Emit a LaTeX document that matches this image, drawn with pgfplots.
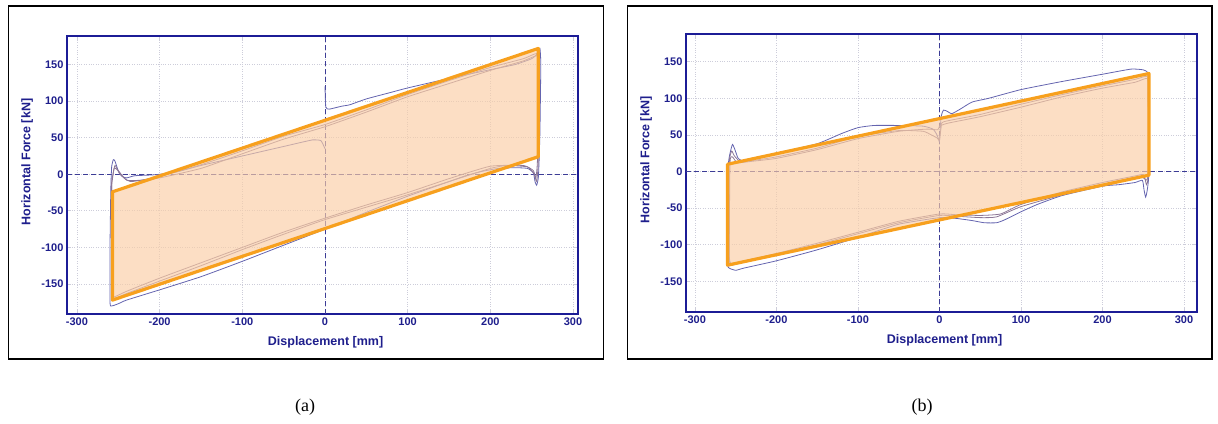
\documentclass[border=0pt]{standalone}
\usepackage{fontspec}
\setmainfont{Liberation Serif}
\setsansfont{Liberation Sans}
\usepackage{pgfplots}
\pgfplotsset{compat=1.18}
\definecolor{axblue}{RGB}{28,28,150}
\definecolor{txtblue}{RGB}{30,30,140}
\definecolor{cnavy}{RGB}{100,100,175}
\definecolor{cgray}{RGB}{140,118,150}
\definecolor{corange}{RGB}{247,160,30}
\definecolor{cpeach}{RGB}{250,205,165}
\definecolor{cgrid}{RGB}{205,205,218}
\definecolor{czero}{RGB}{60,60,150}
\pgfplotsset{
  hyst/.style={
    scale only axis, width=511pt, height=278pt,
    axis line style={draw=axblue, line width=1.8pt},
    xtick={-300,-200,-100,0,100,200,300},
    xticklabels={{-300},{-200},{-100},{0},{100},{200},{300}},
    ytick={-150,-100,-50,0,50,100,150},
    yticklabels={{-150},{-100},{-50},{0},{50},{100},{150}},
    ticklabel style={font=\sffamily\bfseries\fontsize{11}{12}\selectfont, text=txtblue},
    tick align=inside, major tick length=4pt,
    tick style={draw=cgrid, line width=0.8pt},
    grid=major, major grid style={draw=cgrid, dotted, line width=0.8pt},
    label style={font=\sffamily\bfseries\fontsize{12.5}{14}\selectfont, text=txtblue},
    xlabel={Displacement [mm]}, ylabel={Horizontal Force [kN]},
    xlabel style={at={(axis description cs:0.506,-0.10)}, anchor=center},
    ylabel style={at={(axis description cs:-0.078,0.547)}, anchor=center, rotate=0},
    clip=true,
  },
  zl/.style={draw=czero, dash pattern=on 5pt off 3pt, line width=0.7pt, no marks},
  cn/.style={draw=cnavy, line width=0.8pt, smooth, tension=0.3, no marks},
  cg/.style={draw=cgray, line width=0.8pt, smooth, tension=0.3, no marks},
}
\begin{document}
\begin{tikzpicture}[x=1pt,y=1pt]
\path (0pt,0pt) rectangle (1218pt,423pt);
% frames
\draw[black, line width=1.1pt] (8.5pt,64pt) rectangle (603.5pt,417pt);
\draw[black, line width=1.1pt] (627.5pt,64pt) rectangle (1212pt,417pt);
% ---------------- panel (a)
\begin{axis}[hyst, at={(67pt,109pt)}, anchor=south west,
  xmin=-312, xmax=306, ymin=-191, ymax=189]
\addplot[zl] coordinates {(-312,0) (306,0)};
\addplot[zl] coordinates {(0,-191) (0,189)};
\addplot[cn] coordinates {(0,120) (1,92) (5,89) (20,93) (30,95) (50,103) (80,112) (100,118) (150,131) (200,143) (230,150) (250,158) (258,166) (260,172) (261,150) (260,60) (259,20) (258,-5) (256,-15) (254,-10) (252,2) (245,8) (230,9) (210,8) (190,4) (170,-2) (150,-10) (100,-30) (50,-52) (0,-75) (-50,-97) (-100,-119) (-150,-140) (-200,-158) (-240,-172) (-250,-177) (-258,-180) (-260,-175) (-260,-100) (-259,-20) (-258,10) (-256,20) (-254,18) (-250,5) (-245,-3) (-240,-5) (-230,-2) (-210,-1) (-200,0) (-180,3) (-150,12) (-100,25) (-50,38) (-15,47) (-5,46) (-2,40) (0,35)};
\addplot[cg] coordinates {(-258,-15) (-255,8) (-250,5) (-240,-8) (-220,-8) (-200,-5) (-150,8) (-100,28) (-50,48) (0,65) (50,85) (100,106) (150,124) (200,142) (240,155) (257,162) (258,140) (258,20) (256,-10) (253,0) (245,10) (220,12) (200,8) (150,-10) (100,-28) (50,-45) (0,-62) (-50,-82) (-100,-103) (-150,-125) (-200,-146) (-240,-163) (-255,-170) (-258,-165) (-258,-15)};
\addplot[cg] coordinates {(-258,-10) (-254,12) (-248,0) (-235,-10) (-200,-3) (-150,13) (-100,32) (-50,52) (0,68) (50,88) (100,109) (150,128) (200,146) (240,158) (256,165) (257,150) (257,22) (255,-5) (252,5) (240,12) (200,11) (150,-6) (100,-25) (50,-42) (0,-60) (-50,-79) (-100,-100) (-150,-121) (-200,-142) (-240,-160) (-256,-168) (-258,-160) (-258,-10)};
\addplot[fill=cpeach, fill opacity=0.66, draw=none] coordinates {(-257,-24) (258,172) (258,24) (-257,-172)} -- cycle;
\addplot[draw=corange, line width=3.2pt, line join=round, no marks] coordinates {(-257,-24) (258,172) (258,24) (-257,-172)} -- cycle;
\end{axis}
% ---------------- panel (b)
\begin{axis}[hyst, at={(686pt,111pt)}, anchor=south west,
  xmin=-311, xmax=316, ymin=-192, ymax=188]
\addplot[zl] coordinates {(-311,0) (316,0)};
\addplot[zl] coordinates {(0,-192) (0,188)};
\addplot[cn] coordinates {(0,40) (2,75) (5,84) (10,82) (15,79) (25,85) (40,95) (60,100) (100,112) (150,123) (200,133) (235,140) (250,139) (256,135) (257,120) (257,0) (255,-25) (253,-35) (251,-25) (249,-12) (240,-15) (220,-18) (200,-20) (150,-33) (120,-45) (100,-55) (80,-66) (70,-70) (55,-70) (40,-67) (20,-64) (0,-63) (-50,-72) (-100,-90) (-150,-107) (-200,-122) (-240,-132) (-250,-135) (-258,-132) (-260,-125) (-260,-50) (-259,10) (-257,25) (-254,37) (-251,30) (-247,18) (-240,14) (-230,18) (-200,25) (-150,38) (-120,52) (-100,60) (-80,63) (-50,63) (-20,62) (-8,58) (-3,50) (0,40)};
\addplot[cg] coordinates {(-258,-120) (-258,10) (-255,28) (-252,22) (-245,14) (-230,15) (-200,20) (-150,32) (-100,48) (-50,56) (-20,55) (-10,50) (-3,46) (0,43) (2,60) (5,68) (50,78) (100,92) (150,105) (200,117) (240,126) (255,130) (256,110) (256,-5) (254,-18) (252,-10) (245,-8) (200,-18) (150,-32) (100,-48) (70,-62) (50,-63) (20,-61) (0,-60) (-50,-70) (-100,-85) (-150,-100) (-200,-114) (-240,-124) (-256,-128) (-258,-120)};
\addplot[cg] coordinates {(-258,-115) (-257,12) (-254,20) (-248,12) (-230,14) (-200,18) (-150,30) (-100,45) (-50,55) (-15,58) (-2,57) (0,62) (10,66) (50,75) (100,88) (150,102) (200,114) (240,122) (255,127) (256,100) (256,-3) (253,-12) (250,-4) (240,-6) (200,-15) (150,-28) (100,-45) (75,-58) (50,-60) (20,-59) (0,-58) (-50,-68) (-100,-83) (-150,-98) (-200,-112) (-240,-122) (-256,-126) (-258,-115)};
\addplot[fill=cpeach, fill opacity=0.66, draw=none] coordinates {(-260,10) (257,134) (257,-5) (-260,-128)} -- cycle;
\addplot[draw=corange, line width=3.2pt, line join=round, no marks] coordinates {(-260,10) (257,134) (257,-5) (-260,-128)} -- cycle;
\end{axis}
% captions
\node[font=\fontsize{18}{20}\selectfont] at (305pt,16pt) {(a)};
\node[font=\fontsize{18}{20}\selectfont] at (922pt,16pt) {(b)};
\pgfresetboundingbox
\path (0pt,0pt) rectangle (1218pt,423pt);
\end{tikzpicture}
\end{document}
